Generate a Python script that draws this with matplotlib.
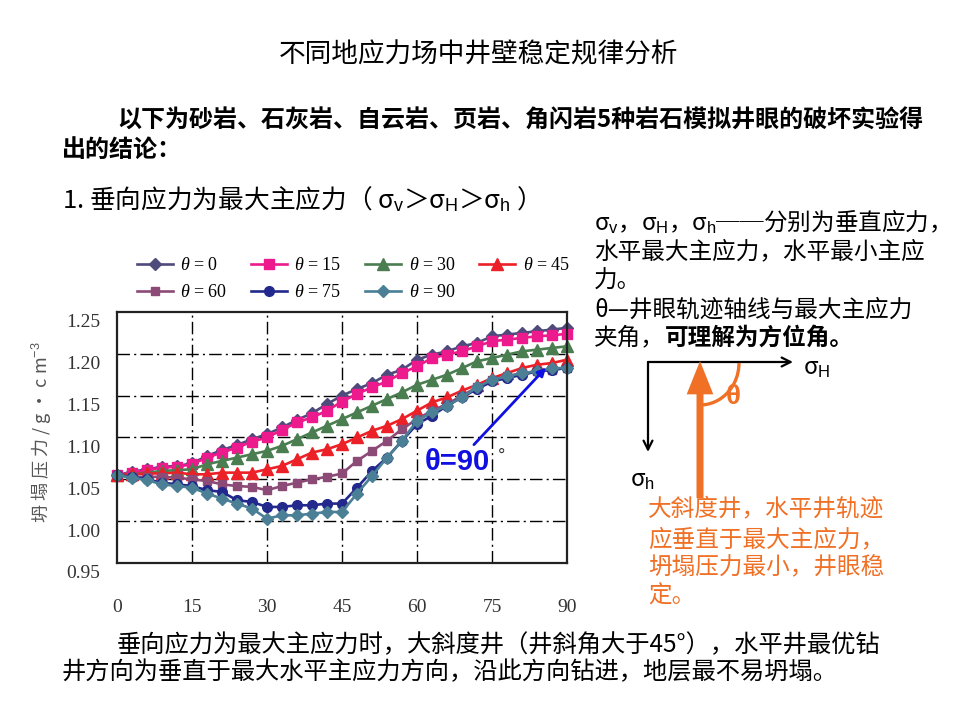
import numpy as np
import matplotlib
matplotlib.use("Agg")
import matplotlib.pyplot as plt
from matplotlib import transforms
from matplotlib.patches import Arc, FancyArrowPatch

plt.rcParams['font.family'] = ['Noto Sans CJK SC', 'DejaVu Sans']
plt.rcParams['mathtext.fontset'] = 'custom'
plt.rcParams['mathtext.rm'] = 'Liberation Sans'
plt.rcParams['mathtext.it'] = 'Liberation Serif:italic'
plt.rcParams['mathtext.bf'] = 'Liberation Sans:bold'

# 井斜角 (deg) 与坍塌压力 (g/cm3)
angle = [0, 3, 6, 9, 12, 15, 18, 21, 24, 27, 30, 33, 36, 39, 42, 45,
         48, 51, 54, 57, 60, 63, 66, 69, 72, 75, 78, 81, 84, 87, 90]
theta_0 = [1.055, 1.059, 1.062, 1.065, 1.066, 1.069, 1.078, 1.085, 1.091, 1.098, 1.104,
           1.112, 1.121, 1.129, 1.140, 1.150, 1.158, 1.165, 1.175, 1.181, 1.193,
           1.199, 1.203, 1.209, 1.213, 1.221, 1.223, 1.225, 1.227, 1.229, 1.231]
theta_15 = [1.055, 1.058, 1.061, 1.064, 1.065, 1.068, 1.076, 1.082, 1.088, 1.095, 1.100,
            1.109, 1.118, 1.124, 1.132, 1.143, 1.152, 1.160, 1.167, 1.177, 1.185,
            1.195, 1.199, 1.203, 1.209, 1.215, 1.217, 1.219, 1.221, 1.222, 1.224]
theta_30 = [1.055, 1.056, 1.058, 1.060, 1.061, 1.062, 1.068, 1.072, 1.076, 1.080, 1.084,
            1.090, 1.098, 1.106, 1.114, 1.122, 1.130, 1.138, 1.146, 1.154, 1.163,
            1.169, 1.175, 1.183, 1.191, 1.195, 1.199, 1.203, 1.205, 1.207, 1.209]
theta_45 = [1.055, 1.056, 1.057, 1.057, 1.058, 1.056, 1.056, 1.058, 1.058, 1.058, 1.062,
            1.066, 1.074, 1.082, 1.086, 1.092, 1.100, 1.108, 1.114, 1.122, 1.132,
            1.142, 1.148, 1.156, 1.163, 1.171, 1.177, 1.183, 1.187, 1.189, 1.193]
theta_60 = [1.055, 1.053, 1.053, 1.053, 1.052, 1.050, 1.048, 1.044, 1.042, 1.041, 1.037,
            1.042, 1.046, 1.050, 1.053, 1.057, 1.072, 1.084, 1.096, 1.110, 1.122,
            1.132, 1.140, 1.150, 1.160, 1.169, 1.173, 1.177, 1.179, 1.181, 1.183]
theta_75 = [1.055, 1.053, 1.050, 1.046, 1.044, 1.042, 1.037, 1.035, 1.025, 1.023, 1.017,
            1.017, 1.019, 1.019, 1.021, 1.021, 1.040, 1.060, 1.076, 1.096, 1.116,
            1.126, 1.138, 1.148, 1.158, 1.167, 1.171, 1.175, 1.179, 1.181, 1.183]
theta_90 = [1.055, 1.052, 1.049, 1.044, 1.042, 1.040, 1.033, 1.027, 1.021, 1.015, 1.003,
            1.007, 1.007, 1.009, 1.011, 1.011, 1.033, 1.054, 1.076, 1.096, 1.120,
            1.130, 1.138, 1.148, 1.160, 1.169, 1.173, 1.177, 1.179, 1.183, 1.183]

series_labels = ["0", "15", "30", "45", "60", "75", "90"]
series_values = [theta_0, theta_15, theta_30, theta_45, theta_60, theta_75, theta_90]
series_colors = ["#4F4A7C", "#EC1A8C", "#4A7D50", "#EC2027", "#8C4A77", "#23298C", "#4A7F96"]
series_markers = ["D", "s", "^", "^", "s", "o", "D"]
series_msize = [6, 7.5, 8, 8, 6, 7, 6.5]

x_ticks = [0, 15, 30, 45, 60, 75, 90]
y_ticks = [0.95, 1.00, 1.05, 1.10, 1.15, 1.20, 1.25]

ORANGE = "#F07026"
W, H = 960, 720

fig = plt.figure(figsize=(W / 100, H / 100), dpi=100)
ax = fig.add_axes([117 / W, 1 - 563 / H, 450 / W, 251 / H])

handles = []
for lab, vals, c, m, ms in zip(series_labels, series_values, series_colors,
                                series_markers, series_msize):
    h, = ax.plot(angle, vals, color=c, lw=1.9, marker=m, ms=ms,
                 markeredgecolor=c, clip_on=False, label=r"$\theta$ = " + lab)
    handles.append(h)

ax.set_xlim(0, 90)
ax.set_ylim(0.95, 1.25)
ax.set_xticks(x_ticks)
ax.set_yticks(y_ticks)
ax.set_yticklabels([f"{v:.2f}" for v in y_ticks])
ax.tick_params(length=0, labelsize=14, colors="#333333")
ax.tick_params(axis="x", pad=26)
ax.tick_params(axis="y", pad=12)
for t in ax.get_xticklabels() + ax.get_yticklabels():
    t.set_fontfamily("Liberation Serif")
# y 刻度标签在原图中略低于网格线
off = transforms.ScaledTranslation(0, -9 / 100, fig.dpi_scale_trans)
for t in ax.get_yticklabels():
    t.set_transform(t.get_transform() + off)

for gx in x_ticks[1:-1]:
    ax.axvline(gx, color="black", lw=1.0, ls=(0, (9, 3, 1.5, 3)), zorder=0.5)
for gy in y_ticks[1:-1]:
    ax.axhline(gy, color="black", lw=1.0, ls=(0, (9, 3, 1.5, 3)), zorder=0.5)
for sp in ax.spines.values():
    sp.set_linewidth(1.6)
    sp.set_color("#222222")

order = [0, 4, 1, 5, 2, 6, 3]
leg = ax.legend([handles[i] for i in order],
                [handles[i].get_label() for i in order],
                ncol=4, loc="upper left", frameon=False,
                bbox_to_anchor=(128 / W, 1 - 248 / H), bbox_transform=fig.transFigure,
                prop={"family": "Liberation Serif", "size": 13},
                handlelength=2.0, handletextpad=0.4, columnspacing=1.3,
                labelspacing=0.55, borderpad=0)

ax.set_ylabel("坍 塌 压 力 / g · c m$^{-3}$", fontsize=13, color="#555555")
ax.yaxis.set_label_coords(-0.142, 0.52)

# 蓝色标注
ax.annotate("", xy=(86.2, 1.186), xytext=(71.0, 1.089),
            arrowprops=dict(arrowstyle="-|>", color="#1010E0", lw=2.0,
                            mutation_scale=12))
ax.text(68.0, 1.071, "θ=90", color="#1010E0", fontsize=21, fontweight="bold",
        family="Liberation Sans", ha="center", va="center")
ax.text(77.0, 1.077, "°", color="#333333", fontsize=13, ha="center", va="center",
        family="Liberation Sans")

# 文字与示意图的像素坐标覆盖层
ov = fig.add_axes([0, 0, 1, 1])
ov.set_xlim(0, W)
ov.set_ylim(H, 0)
ov.axis("off")
ov.patch.set_visible(False)

ov.text(478, 55, "不同地应力场中井壁稳定规律分析", fontsize=19.2, ha="center", va="center")
ov.text(117, 121, "以下为砂岩、石灰岩、自云岩、页岩、角闪岩5种岩石模拟井眼的破坏实验得",
        fontsize=17.3, fontweight="bold", va="center")
ov.text(62, 150, "出的结论：", fontsize=17.3, fontweight="bold", va="center")
ov.text(62, 200, "1. 垂向应力为最大主应力（ σ$_\\mathrm{v}$＞σ$_\\mathrm{H}$＞σ$_\\mathrm{h}$ ）",
        fontsize=18.5, va="center")

right_lines = ["σ$_\\mathrm{v}$，σ$_\\mathrm{H}$，σ$_\\mathrm{h}$──分别为垂直应力，",
               "水平最大主应力，水平最小主应",
               "力。",
               "θ—井眼轨迹轴线与最大主应力",
               "夹角，"]
right_y = [222, 252, 281, 310, 338]
for s, yy in zip(right_lines, right_y):
    ov.text(594, yy, s, fontsize=17, va="center")
ov.text(594 + 3 * 23.6, 338, "可理解为方位角。", fontsize=17, fontweight="bold", va="center")

# 应力方向示意
ov.add_patch(FancyArrowPatch((648, 362), (793, 362), arrowstyle="->", color="black",
                             lw=1.6, mutation_scale=16, shrinkA=0, shrinkB=0))
ov.add_patch(FancyArrowPatch((648, 362), (648, 452), arrowstyle="->", color="black",
                             lw=1.6, mutation_scale=16, shrinkA=0, shrinkB=0))
ov.text(803, 369, "σ$_\\mathrm{H}$", fontsize=17, va="center")
ov.text(630, 480, "σ$_\\mathrm{h}$", fontsize=17, va="center")
ov.add_patch(FancyArrowPatch((700, 498), (700, 361),
                             arrowstyle="simple,head_width=1.6,head_length=2.0,tail_width=0.42",
                             color=ORANGE, lw=0, mutation_scale=12, shrinkA=0, shrinkB=0))
ov.add_patch(Arc((700, 363), 78, 84, theta1=0, theta2=90, color=ORANGE, lw=2.4))
ov.text(733, 397, "θ", fontsize=20, fontweight="bold", color=ORANGE,
        family="Liberation Sans", ha="center", va="center")

orange_lines = ["大斜度井，水平井轨迹", "应垂直于最大主应力，", "坍塌压力最小，井眼稳", "定。"]
orange_y = [510, 540, 568, 596]
for s, yy in zip(orange_lines, orange_y):
    ov.text(648, yy, s, fontsize=17, color=ORANGE, va="center")

ov.text(117, 645, "垂向应力为最大主应力时，大斜度井（井斜角大于45°），水平井最优钻",
        fontsize=17.5, va="center")
ov.text(62, 672, "井方向为垂直于最大水平主应力方向，沿此方向钻进，地层最不易坍塌。",
        fontsize=17.5, va="center")

fig.savefig("out.png", dpi=100)
